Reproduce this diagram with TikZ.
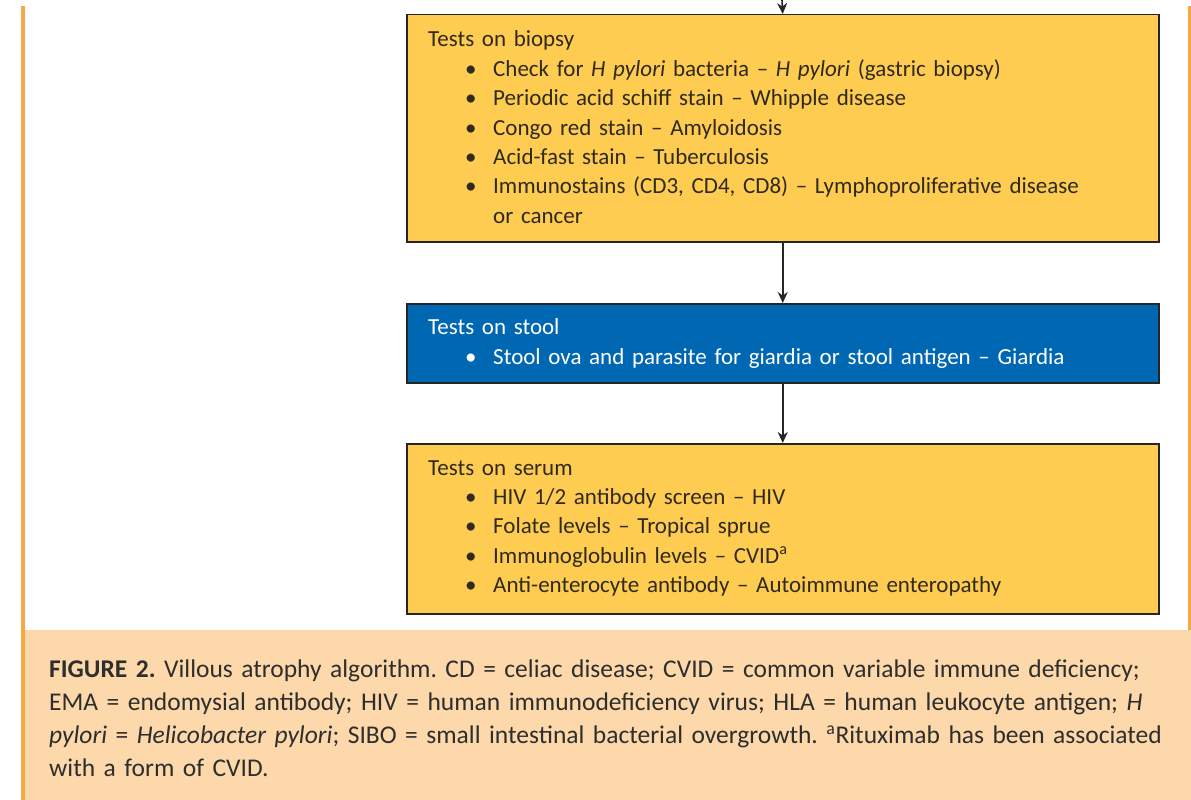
\documentclass[tikz,border=0pt]{standalone}
\usepackage{fontspec}
\setmainfont{Carlito}
\usetikzlibrary{arrows.meta,shadows}
\definecolor{boxyellow}{RGB}{254,204,80}
\definecolor{boxblue}{RGB}{0,103,178}
\definecolor{capfill}{RGB}{253,216,170}
\definecolor{frameorange}{RGB}{247,166,72}
\definecolor{inktext}{RGB}{48,42,30}
\newcommand{\tbullet}{\hspace*{37pt}\makebox[28pt][l]{\textbullet}}
\frenchspacing

\begin{document}
\begin{tikzpicture}[x=1pt,y=-1pt,
		testbox/.style={draw=black!85, line width=1.5pt, minimum width=752pt,
			inner sep=0pt, anchor=north west,
			drop shadow={shadow xshift=1.2pt, shadow yshift=-1.2pt, fill=black!40, opacity=1}},
		boxtext/.style={anchor=base west, inner sep=0pt, text width=740pt,
			align=left, font=\fontsize{23}{29.4}\selectfont},
		flow/.style={-{Stealth[length=11pt,width=10pt]}, line width=1.6pt, black!85}]
		\useasboundingbox (0,0) rectangle (1191,800);
		
		\fill[capfill] (23,630) rectangle (1191,800);
		\draw[frameorange, line width=3.5pt] (23,6) -- (23,800);
		\draw[frameorange, line width=3.5pt] (1189.5,6) -- (1189.5,630);
		
		\node[testbox, fill=boxyellow, minimum height=227pt] (biopsy) at (406,14) {};
		\node[testbox, fill=boxblue, minimum height=79pt] (stool) at (406,303) {};
		\node[testbox, fill=boxyellow, minimum height=170pt] (serum) at (406,443) {};
		
		\coordinate (entry) at (782,0);
		\draw[flow] (entry) -- (biopsy.north);
		\draw[flow] (biopsy.south) -- (stool.north);
		\draw[flow] (stool.south) -- (serum.north);
		
		\node[boxtext, text=inktext] (biopsytext) at (428,47) {Tests on biopsy\\
			\tbullet Check for \textit{H pylori} bacteria -- \textit{H pylori} (gastric biopsy)\\
			\tbullet Periodic acid schiff stain -- Whipple disease\\
			\tbullet Congo red stain -- Amyloidosis\\
			\tbullet Acid-fast stain -- Tuberculosis\\
			\tbullet Immunostains (CD3, CD4, CD8) -- Lymphoproliferative disease\\
			\hspace*{65pt}or cancer};
		
		\node[boxtext, text=white, font=\fontsize{23}{30}\selectfont] (stooltext) at (428,334) {Tests on stool\\
			\tbullet Stool ova and parasite for giardia or stool antigen -- Giardia};
		
		\node[boxtext, text=inktext] (serumtext) at (428,475) {Tests on serum\\
			\tbullet HIV 1/2 antibody screen -- HIV\\
			\tbullet Folate levels -- Tropical sprue\\
			\tbullet Immunoglobulin levels -- CVID\textsuperscript{a}\\
			\tbullet Anti-enterocyte antibody -- Autoimmune enteropathy};
		
		\node[anchor=base west, inner sep=0pt, text width=1116pt, align=left,
			text=black!82, font=\fontsize{25.5}{33.3}\selectfont] (caption) at (49,677)
			{\makebox[1116pt][s]{\textbf{FIGURE 2.} Villous atrophy algorithm. CD = celiac disease; CVID = common variable immune deficiency;}\\
			\makebox[1116pt][s]{EMA = endomysial antibody; HIV = human immunodeficiency virus; HLA = human leukocyte antigen; \textit{H}}\\
			\makebox[1116pt][s]{\textit{pylori} = \textit{Helicobacter pylori}; SIBO = small intestinal bacterial overgrowth. \textsuperscript{a}Rituximab has been associated}\\
			with a form of CVID.};
	\end{tikzpicture}
\end{document}
